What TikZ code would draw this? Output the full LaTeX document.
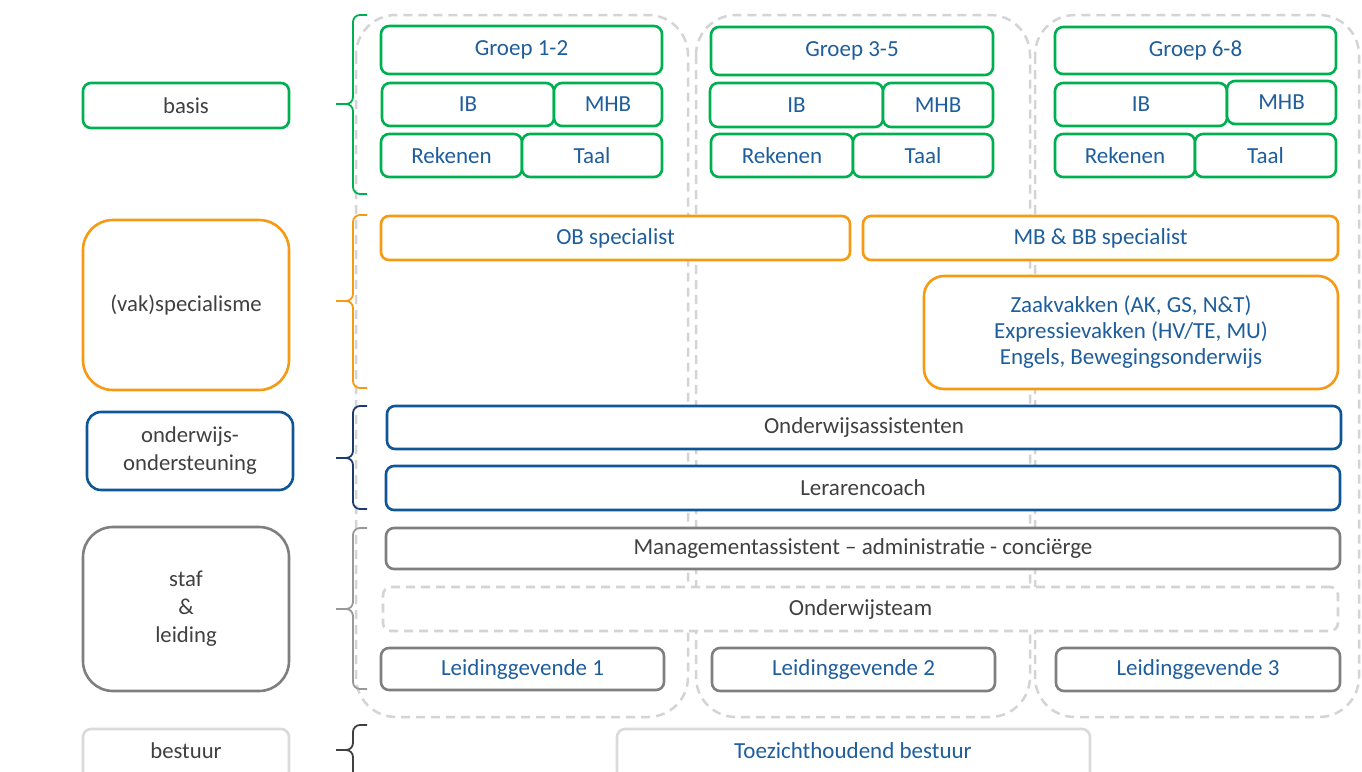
\documentclass[tikz,border=0pt]{standalone}
\usepackage{fontspec}
\setmainfont{Carlito}
\definecolor{cgreen}{HTML}{00B050}
\definecolor{corange}{HTML}{F59A12}
\definecolor{cblue}{HTML}{0F5697}
\definecolor{cnavy}{HTML}{1F3A6E}
\definecolor{cgray}{HTML}{7F7F7F}
\definecolor{clight}{HTML}{D4D4D4}
\definecolor{cpale}{HTML}{DADADA}
\definecolor{ctext}{HTML}{1F5E9C}
\definecolor{cdark}{HTML}{404040}
\newcommand\bx[7]{\node[#2, minimum width={(#5-#3)*1pt}, minimum height={(#6-#4)*1pt}] (#1) at ({(#3+#5)/2},{(#4+#6)/2}) {#7};}
\newcommand\mybrace[5]{%
 \draw[#1, line width=1.8pt, rounded corners=7pt] (367,#2) -- (353,#2) -- (353,#3) -- (336,#3);
 \draw[#1, line width=1.8pt, rounded corners=7pt] (367,#4) -- (353,#4) -- (353,#3) -- (336,#3);
 \coordinate (#5) at (336,#3);}
\begin{document}
\begin{tikzpicture}[x=1pt,y=-1pt,
  box/.style={draw, fill=white, rounded corners=8pt, line width=2.6pt, inner sep=0pt, outer sep=0pt, align=center, font=\fontsize{23}{26}\selectfont, text=ctext},
  gbox/.style={box, draw=cgreen},
  obox/.style={box, draw=corange},
  bbox/.style={box, draw=cblue, text=cdark},
  sbox/.style={box, draw=cgray},
  lbl/.style={box, text=cdark, font=\fontsize{22.7}{28}\selectfont},
  col/.style={draw=clight, line width=2.5pt, dash pattern=on 9pt off 6pt, rounded corners=40pt}]
\useasboundingbox (0,0) rectangle (1362,771);
\fill[white] (0,0) rectangle (1362,771);
% dashed columns
\draw[col] (356,15) rectangle (688,717);
\draw[col] (696,15) rectangle (1030,717);
\draw[col] (1035,15) rectangle (1359,717);
% left labels
\bx{basis}{lbl, draw=cgreen}{83}{83}{289}{128}{basis}
\bx{vak}{lbl, draw=corange, rounded corners=30pt}{83}{220}{289}{390}{(vak)specialisme}
\bx{ond}{lbl, draw=cblue, rounded corners=14pt}{87}{412}{293}{490}{onderwijs-\\ondersteuning}
\bx{staf}{lbl, draw=cgray, rounded corners=30pt}{83}{527}{289}{691}{staf\\\&\\leiding}
\bx{best}{lbl, draw=cpale}{83}{729}{289}{790}{}
\node[text=cdark, font=\fontsize{22.7}{26}\selectfont] (bestt) at (186,751) {bestuur};
% braces
\mybrace{cgreen}{15}{104}{194}{b1}
\mybrace{corange}{215}{301}{388}{b2}
\mybrace{cnavy}{406}{458}{509}{b3}
\mybrace{cgray!80}{528}{609}{689}{b4}
\mybrace{cdark}{725}{750}{800}{b5}
% basis
\bx{g12}{gbox}{381}{26}{662}{74}{Groep 1-2}
\bx{ib1}{gbox}{382}{83}{554}{126}{IB}
\bx{mhb1}{gbox}{554}{83}{662}{126}{MHB}
\bx{rek1}{gbox}{381}{134}{522}{177}{Rekenen}
\bx{taal1}{gbox}{522}{134}{662}{177}{Taal}
\bx{g35}{gbox}{711}{27}{993}{75}{Groep 3-5}
\bx{ib2}{gbox}{710}{83}{883}{127}{IB}
\bx{mhb2}{gbox}{883}{83}{993}{127}{MHB}
\bx{rek2}{gbox}{711}{134}{853}{177}{Rekenen}
\bx{taal2}{gbox}{853}{134}{993}{177}{Taal}
\bx{g68}{gbox}{1055}{27}{1336}{74}{Groep 6-8}
\bx{ib3}{gbox}{1055}{83}{1227}{126}{IB}
\bx{mhb3}{gbox}{1227}{81}{1336}{124}{MHB}
\bx{rek3}{gbox}{1055}{134}{1195}{177}{Rekenen}
\bx{taal3}{gbox}{1195}{134}{1336}{177}{Taal}
% specialisme
\bx{ob}{obox}{381}{216}{850}{260}{OB specialist}
\bx{mb}{obox}{863}{216}{1338}{260}{MB \& BB specialist}
\bx{zaak}{obox, rounded corners=20pt}{924}{276}{1338}{389}{Zaakvakken (AK, GS, N\&T)\\Expressievakken (HV/TE, MU)\\Engels, Bewegingsonderwijs}
% ondersteuning
\bx{oa}{bbox}{387}{406}{1341}{449}{Onderwijsassistenten}
\bx{lc}{bbox}{386}{466}{1340}{510}{Lerarencoach}
% staf
\bx{ma}{sbox, text=cdark}{386}{528}{1340}{569}{Managementassistent -- administratie - conciërge}
\bx{ot}{box, draw=clight, dash pattern=on 9pt off 6pt, text=cdark}{383}{587}{1338}{631}{Onderwijsteam}
\bx{l1}{sbox}{381}{648}{664}{690}{Leidinggevende 1}
\bx{l2}{sbox}{712}{648}{995}{691}{Leidinggevende 2}
\bx{l3}{sbox}{1056}{648}{1340}{691}{Leidinggevende 3}
% bestuur
\bx{tb}{box, draw=cpale}{617}{729}{1090}{790}{}
\node[text=ctext, font=\fontsize{23}{26}\selectfont] (tbt) at (853,751) {Toezichthoudend bestuur};
\end{tikzpicture}
\end{document}
